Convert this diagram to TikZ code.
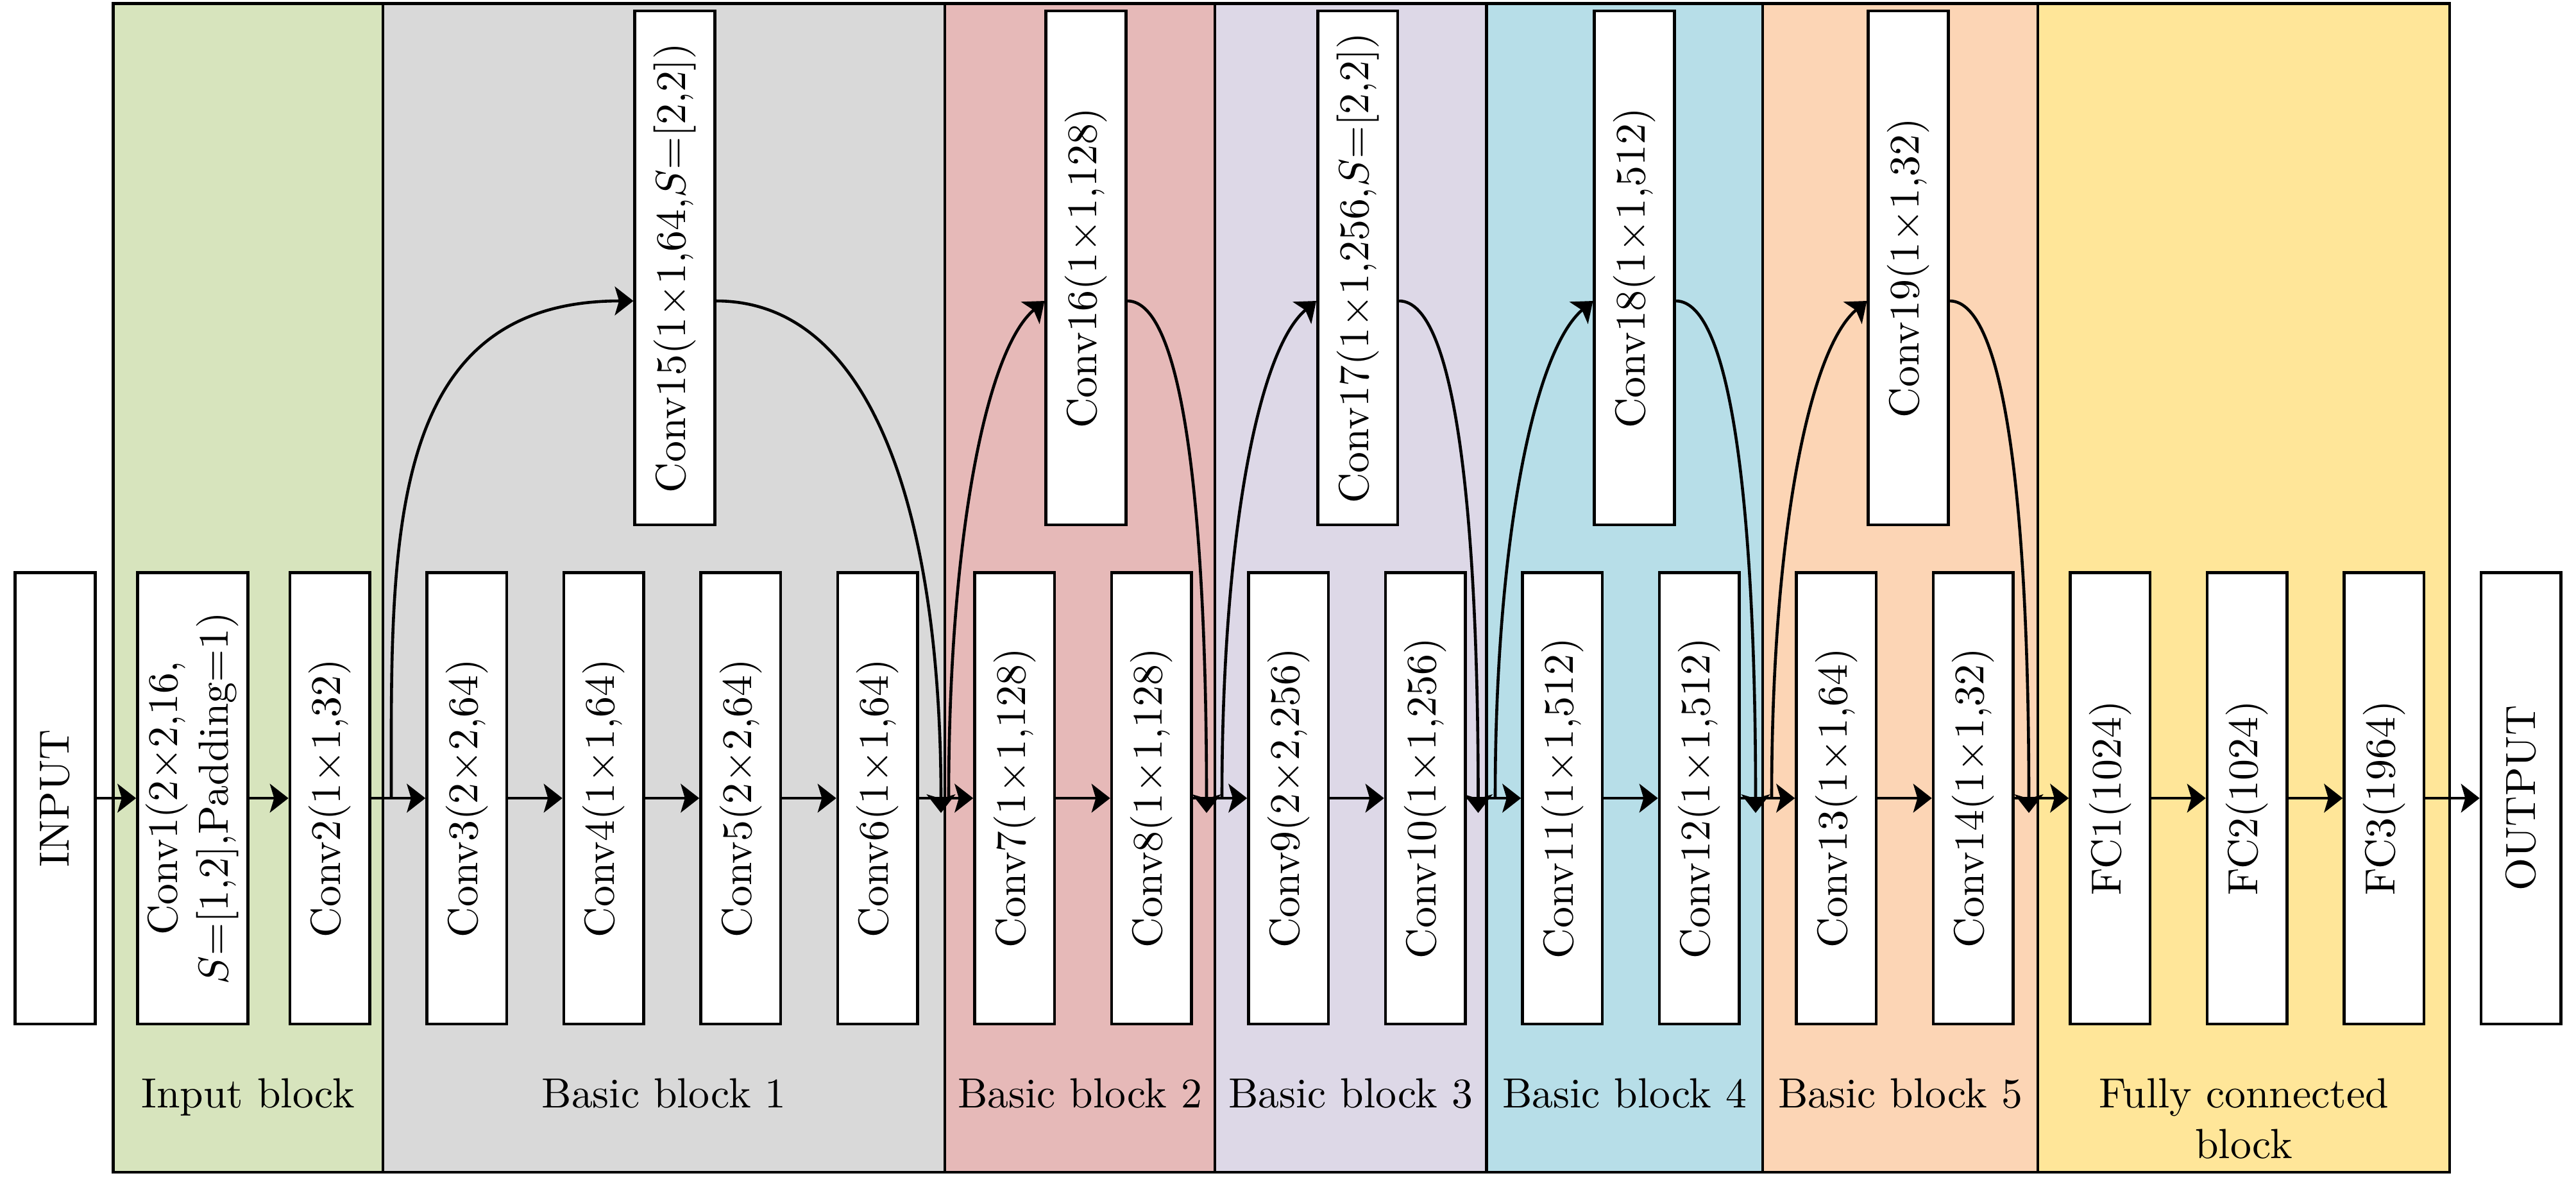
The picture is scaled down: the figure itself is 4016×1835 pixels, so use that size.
\documentclass[tikz,border=0pt]{standalone}
\usepackage{graphicx}
\usetikzlibrary{arrows.meta}
\definecolor{cgreen}{HTML}{D7E4BD}
\definecolor{cgray}{HTML}{D9D9D9}
\definecolor{cred}{HTML}{E6B9B8}
\definecolor{cpurple}{HTML}{DDD8E7}
\definecolor{cblue}{HTML}{B7DEE8}
\definecolor{corange}{HTML}{FCD5B5}
\definecolor{cyellow}{HTML}{FFE699}
\begin{document}
\begin{tikzpicture}[x=0.1522pt,y=-0.1522pt,line width=0.7pt,
  box/.style={draw,fill=white,minimum width=18.95pt,minimum height=107.1pt,inner sep=0pt},
  topbox/.style={box,minimum height=121.9pt},
  lbl/.style={anchor=base,inner sep=0pt},
  arr/.style={-{Stealth[length=4.4pt,width=6.8pt,inset=1pt]}}]
\useasboundingbox (0,0) rectangle (4016,1835);
% block backgrounds
\draw[fill=cgreen]  (176.5,5.7) rectangle (597,1827);
\draw[fill=cgray]   (597,5.7) rectangle (1473,1827);
\draw[fill=cred]    (1473,5.7) rectangle (1894,1827);
\draw[fill=cpurple] (1894,5.7) rectangle (2317.5,1827);
\draw[fill=cblue]   (2317.5,5.7) rectangle (2748,1827);
\draw[fill=corange] (2748,5.7) rectangle (3177,1827);
\draw[fill=cyellow] (3177,5.7) rectangle (3819,1827);
% block labels
\node[lbl] (l0) at (386.75,1726) {Input block};
\node[lbl] (l1) at (1035,1726) {Basic block 1};
\node[lbl] (l2) at (1683.5,1726) {Basic block 2};
\node[lbl] (l3) at (2105.75,1726) {Basic block 3};
\node[lbl] (l4) at (2532.75,1726) {Basic block 4};
\node[lbl] (l5) at (2962.5,1726) {Basic block 5};
\node[lbl,align=center] (l6) at (3498,1805) {Fully connected\\block};
% main row
\node[box,minimum width=19.1pt] (in) at (86,1244) {\rotatebox{90}{INPUT}};
\node[box,minimum width=26.2pt] (c1) at (300.5,1244) {\rotatebox{90}{\begin{tabular}{@{}c@{}}Conv1(2$\times$2,16,\\$S$=[1,2],Padding=1)\end{tabular}}};
\node[box] (c2) at (514.25,1244) {\rotatebox{90}{Conv2(1$\times$1,32)}};
\node[box] (c3) at (727.75,1244) {\rotatebox{90}{Conv3(2$\times$2,64)}};
\node[box] (c4) at (941.25,1244) {\rotatebox{90}{Conv4(1$\times$1,64)}};
\node[box] (c5) at (1154.75,1244) {\rotatebox{90}{Conv5(2$\times$2,64)}};
\node[box] (c6) at (1368.25,1244) {\rotatebox{90}{Conv6(1$\times$1,64)}};
\node[box] (c7) at (1581.75,1244) {\rotatebox{90}{Conv7(1$\times$1,128)}};
\node[box] (c8) at (1795.25,1244) {\rotatebox{90}{Conv8(1$\times$1,128)}};
\node[box] (c9) at (2008.75,1244) {\rotatebox{90}{Conv9(2$\times$2,256)}};
\node[box] (c10) at (2222.25,1244) {\rotatebox{90}{Conv10(1$\times$1,256)}};
\node[box] (c11) at (2435.75,1244) {\rotatebox{90}{Conv11(1$\times$1,512)}};
\node[box] (c12) at (2649.25,1244) {\rotatebox{90}{Conv12(1$\times$1,512)}};
\node[box] (c13) at (2862.75,1244) {\rotatebox{90}{Conv13(1$\times$1,64)}};
\node[box] (c14) at (3076.25,1244) {\rotatebox{90}{Conv14(1$\times$1,32)}};
\node[box] (f1) at (3289.75,1244) {\rotatebox{90}{FC1(1024)}};
\node[box] (f2) at (3503.25,1244) {\rotatebox{90}{FC2(1024)}};
\node[box] (f3) at (3716.75,1244) {\rotatebox{90}{FC3(1964)}};
\node[box] (out) at (3930.25,1244) {\rotatebox{90}{OUTPUT}};
% top row
\node[topbox] (c15) at (1052,417.5) {\rotatebox{90}{Conv15(1$\times$1,64,$S$=[2,2])}};
\node[topbox] (c16) at (1693,417.5) {\rotatebox{90}{Conv16(1$\times$1,128)}};
\node[topbox] (c17) at (2116.6,417.5) {\rotatebox{90}{Conv17(1$\times$1,256,$S$=[2,2])}};
\node[topbox] (c18) at (2548,417.5) {\rotatebox{90}{Conv18(1$\times$1,512)}};
\node[topbox] (c19) at (2975,417.5) {\rotatebox{90}{Conv19(1$\times$1,32)}};
% main arrows
\foreach \a/\b in {in/c1,c1/c2,c2/c3,c3/c4,c4/c5,c5/c6,c6/c7,c7/c8,c8/c9,c9/c10,c10/c11,c11/c12,c12/c13,c13/c14,c14/f1,f1/f2,f2/f3,f3/out}
  \draw[arr] (\a.east) -- (\b.west);
% attach points on the top boxes
\foreach \n in {c15,c16,c17,c18,c19}{
  \path (\n.west) ++(0,51.5) coordinate (\n i);
  \path (\n.east) ++(0,51.5) coordinate (\n o);
}
% skip connection ends on the main line
\coordinate (s1) at (610,1244);   \coordinate (e1) at (1467,1267);
\coordinate (s2) at (1479,1244);  \coordinate (e2) at (1881,1267);
\coordinate (s3) at (1905,1244);  \coordinate (e3) at (2304.5,1267);
\coordinate (s4) at (2331,1244);  \coordinate (e4) at (2737,1267);
\coordinate (s5) at (2762,1244);  \coordinate (e5) at (3163,1267);
% skip connections
\draw[arr] (s1) .. controls +(0,-394) and +(-390,0) .. (c15i);
\draw[arr] (c15o) .. controls +(250,0) and +(0,-450) .. (e1);
\foreach \k/\n in {2/c16,3/c17,4/c18,5/c19}{
  \draw[arr] (s\k) .. controls +(0,-400) and +(-92,77) .. (\n i);
  \draw[arr] (\n o) .. controls +(90,0) and +(0,-450) .. (e\k);
}
\end{tikzpicture}
\end{document}
